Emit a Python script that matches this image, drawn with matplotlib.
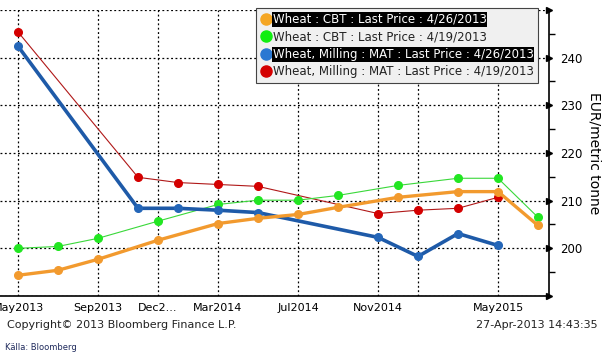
import matplotlib
matplotlib.use("Agg")
import matplotlib.pyplot as plt
from matplotlib.lines import Line2D

# --- data (EUR/metric tonne) ---
MONTHS = ["Jan", "Feb", "Mar", "Apr", "May", "Jun", "Jul", "Aug", "Sep", "Oct", "Nov", "Dec"]

cbt_contracts = ["May13", "Jul13", "Sep13", "Dec13", "Mar14", "May14", "Jul14",
                 "Sep14", "Dec14", "Mar15", "May15", "Jul15"]
cbt_0426 = [194.35, 195.4, 197.7, 201.7, 205.2, 206.3, 207.1, 208.6, 210.7, 211.9, 211.9, 204.8]
cbt_0419 = [200.0, 200.4, 202.1, 205.7, 209.2, 210.1, 210.1, 211.1, 213.2, 214.7, 214.7, 206.5]

mat_contracts = ["May13", "Nov13", "Jan14", "Mar14", "May14", "Nov14", "Jan15", "Mar15", "May15"]
mat_0426 = [242.4, 208.4, 208.4, 208.0, 207.5, 202.3, 198.3, 203.1, 200.6]
mat_0419 = [245.4, 214.9, 213.8, 213.4, 213.0, 207.3, 208.0, 208.4, 210.7]

tick_contracts = ["May13", "Sep13", "Dec13", "Mar14", "Jul14", "Nov14", "Jan15", "May15"]
tick_labels = ["May2013", "Sep2013", "Dec2...", "Mar2014", "Jul2014", "Nov2014", "", "May2015"]

legend_labels = ["Wheat : CBT : Last Price : 4/26/2013",
                 "Wheat : CBT : Last Price : 4/19/2013",
                 "Wheat, Milling : MAT : Last Price : 4/26/2013",
                 "Wheat, Milling : MAT : Last Price : 4/19/2013"]


def month_index(code):
    # months counted from May 2013
    m = MONTHS.index(code[:3]) + 1
    y = 2000 + int(code[3:])
    return (y - 2013) * 12 + (m - 5)


cbt_x = [month_index(c) for c in cbt_contracts]
mat_x = [month_index(c) for c in mat_contracts]
tick_x = [month_index(c) for c in tick_contracts]

fig = plt.figure(figsize=(6.05, 3.56), dpi=100)
ax = fig.add_axes([0.0, 1 - 296 / 356, 549 / 605, 286 / 356])

ORANGE = "#f29a2e"
GREEN = "#22e622"
BLUE = "#1e5aa8"
RED = "#d40000"

ax.plot(mat_x, mat_0419, color="#b01818", lw=0.8, marker="o", ms=5.5,
        mfc=RED, mec=RED, zorder=3)
ax.plot(cbt_x, cbt_0419, color="#3ad83a", lw=0.8, marker="o", ms=5.5,
        mfc=GREEN, mec=GREEN, zorder=3)
ax.plot(mat_x, mat_0426, color=BLUE, lw=2.6, marker="o", ms=5.5,
        mfc="#2466b8", mec="#2466b8", zorder=4)
ax.plot(cbt_x, cbt_0426, color=ORANGE, lw=2.4, marker="o", ms=5.5,
        mfc=ORANGE, mec=ORANGE, zorder=4)

ax.set_xlim(-0.9, 26.55)
ax.set_ylim(190, 250)

# axes / spines
for side in ["left", "top"]:
    ax.spines[side].set_visible(False)
ax.spines["right"].set_linewidth(1.2)
ax.spines["bottom"].set_linewidth(1.2)

ax.set_xticks(tick_x)
ax.set_xticklabels(tick_labels, fontsize=8)
ax.tick_params(axis="x", length=0, pad=5)

yt = list(range(190, 251, 10))
ax.set_yticks(yt)
ax.set_yticklabels(["" if v in (190, 250) else str(v) for v in yt], fontsize=8.5)
ax.set_yticks(list(range(195, 250, 10)), minor=True)
ax.yaxis.tick_right()
ax.tick_params(axis="y", which="major", length=0, pad=8)
ax.tick_params(axis="y", which="minor", length=4, width=1, direction="out")

# arrow style markers for major ticks on the right axis
ax.plot([1.0] * len(yt), yt, ls="none", marker=">", ms=5, color="black",
        transform=ax.get_yaxis_transform(), clip_on=False, zorder=5)

ax.yaxis.set_label_position("right")
ax.set_ylabel("EUR/metric tonne", fontsize=10, rotation=270, labelpad=14)

ax.grid(True, which="major", color="black", ls=(0, (1.5, 2)), lw=0.9)
ax.set_axisbelow(True)

# legend
handles = [Line2D([], [], ls="none", marker="o", ms=8, color=c)
           for c in ["#f5a623", "#11ee11", "#2a78d2", RED]]
leg = fig.legend(handles, legend_labels, loc="upper left",
                 bbox_to_anchor=(256 / 605, 1 - 8 / 356), bbox_transform=fig.transFigure,
                 fontsize=8.5, frameon=True, fancybox=False, handlelength=0.9,
                 handletextpad=0.1, labelspacing=0.38, borderpad=0.4,
                 borderaxespad=0)
leg.get_frame().set_facecolor("#f0f0f0")
leg.get_frame().set_edgecolor("#444444")
leg.get_frame().set_linewidth(0.8)
leg.get_frame().set_alpha(1)
for i, t in enumerate(leg.get_texts()):
    if i in (0, 2):
        t.set_color("white")
        t.set_bbox(dict(facecolor="black", edgecolor="none", pad=0.6))
    else:
        t.set_color("#222222")

# footer text
fig.text(7 / 605, 1 - 325 / 356, "Copyright\u00a9 2013 Bloomberg Finance L.P.",
         fontsize=8, va="center", ha="left", color="#222222")
fig.text(598 / 605, 1 - 325 / 356, "27-Apr-2013 14:43:35",
         fontsize=8, va="center", ha="right", color="#222222")
fig.text(5 / 605, 1 - 347 / 356, "K\u00e4lla: Bloomberg", fontsize=6,
         va="center", ha="left", color="#1f2a5c")

fig.savefig("out.png", dpi=100)
